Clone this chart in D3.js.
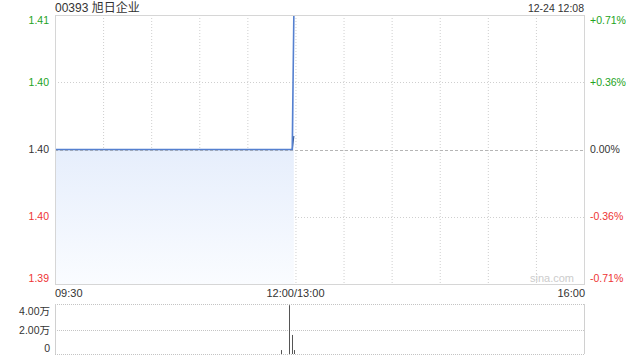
<!DOCTYPE html>
<html>
<head>
<meta charset="utf-8">
<script src="https://cdn.jsdelivr.net/npm/d3@7"></script>
<style>
  body { margin: 0; background: #fff; }
  text { font-family: "Liberation Sans", Arial, "Noto Sans CJK SC", sans-serif; }
</style>
</head>
<body>
<div id="chart"></div>
<script>
// Intraday chart: 00393, trading stops at 12:00 (half-day session)

var titleText = "00393 旭日企业";
var stampText = "12-24 12:08";
var prevClose = 1.40;

// price line, change points only (minute, price)
var priceTimes = ["09:30", "11:58", "11:59"];
var priceValues = [1.40, 1.40, 1.41];

// average price line
var avgTimes = ["09:30", "11:58", "11:59"];
var avgValues = [1.40, 1.40, 1.401];

// volume bars (shares), minutes without trades left out
var volTimes = ["11:51", "11:56", "11:58", "11:59"];
var volValues = [3300, 41000, 16000, 3300];

var priceTicks = [1.41, 1.405, 1.40, 1.395, 1.39];
var priceLabels = ["1.41", "1.40", "1.40", "1.40", "1.39"];
var pctLabels = ["+0.71%", "+0.36%", "0.00%", "-0.36%", "-0.71%"];
var timeLabels = ["09:30", "12:00/13:00", "16:00"];
var volTicks = [40000, 20000, 0];
var volLabels = ["4.00万", "2.00万", "0"];

var svgWidth = 640;
var svgHeight = 360;
var left = 55, right = 584;
var priceTop = 15, priceBottom = 284;
var volTop = 304, volBottom = 354;

var green = "#22a322";
var red = "#ee3333";
var dark = "#333";

var svg = d3.select("#chart")
    .append("svg")
    .attr("width", svgWidth)
    .attr("height", svgHeight);

// minutes since the open, lunch break squeezed out
function minuteIndex(t) {
    var p = t.split(":");
    var m = +p[0] * 60 + +p[1];
    if (m >= 780) return 150 + (m - 780);
    return m - 570;
}

var x = d3.scaleLinear().domain([0, 330]).range([left, right]);
var y = d3.scaleLinear().domain([1.39, 1.41]).range([priceBottom, priceTop]);
var yVol = d3.scaleLinear().domain([0, 42000]).range([volBottom, volTop]);

var pricePts = priceTimes.map((t, i) => ({ i: minuteIndex(t), v: priceValues[i] }));
var avgPts = avgTimes.map((t, i) => ({ i: minuteIndex(t), v: avgValues[i] }));
var volPts = volTimes.map((t, i) => ({ i: minuteIndex(t), v: volValues[i] }));

// gradient for the area
var defs = svg.append("defs");
var grad = defs.append("linearGradient")
    .attr("id", "fade")
    .attr("x1", 0).attr("y1", 0).attr("x2", 0).attr("y2", 1);
grad.append("stop").attr("offset", "0%").attr("stop-color", "#dce7fb");
grad.append("stop").attr("offset", "50%").attr("stop-color", "#e6eefc");
grad.append("stop").attr("offset", "100%").attr("stop-color", "#fafcff");

// vertical grid, every 30 minutes
var gridIdx = d3.range(30, 330, 30);
svg.append("g").selectAll("line")
    .data(gridIdx)
    .enter()
    .append("line")
    .attr("x1", d => x(d) + 0.5).attr("x2", d => x(d) + 0.5)
    .attr("y1", priceTop).attr("y2", priceBottom)
    .attr("stroke", "#cfcfcf")
    .attr("stroke-dasharray", "1,2");

// horizontal grid
svg.append("g").selectAll("line")
    .data([1.405, 1.395])
    .enter()
    .append("line")
    .attr("x1", left).attr("x2", right)
    .attr("y1", d => Math.round(y(d)) + 0.5).attr("y2", d => Math.round(y(d)) + 0.5)
    .attr("stroke", "#cfcfcf")
    .attr("stroke-dasharray", "1,2");

// area under price line
var area = d3.area()
    .x(d => x(d.i))
    .y0(priceBottom)
    .y1(d => y(d.v));
svg.append("path")
    .datum(pricePts)
    .attr("d", area)
    .attr("fill", "url(#fade)");

// previous close line
svg.append("line")
    .attr("x1", left).attr("x2", right)
    .attr("y1", Math.round(y(prevClose)) + 0.5).attr("y2", Math.round(y(prevClose)) + 0.5)
    .attr("stroke", "#b5b5b5")
    .attr("stroke-dasharray", "3,2");

var line = d3.line()
    .x(d => x(d.i))
    .y(d => y(d.v));

svg.append("path")
    .datum(avgPts)
    .attr("d", line)
    .attr("fill", "none")
    .attr("stroke", "#3d5f99")
    .attr("stroke-width", 1.2);

svg.append("path")
    .datum(pricePts)
    .attr("d", line)
    .attr("fill", "none")
    .attr("stroke", "#5580d0")
    .attr("stroke-width", 1.6);

// price frame
svg.append("rect")
    .attr("x", left + 0.5).attr("y", priceTop + 0.5)
    .attr("width", right - left).attr("height", priceBottom - priceTop)
    .attr("fill", "none")
    .attr("stroke", "#d6d6d6");

// watermark
svg.append("text")
    .attr("x", 574).attr("y", 282)
    .attr("text-anchor", "end")
    .attr("font-size", 11)
    .attr("fill", "#cccccc")
    .text("sina.com");

// left price labels
function tickColor(v) {
    if (v > prevClose + 1e-9) return green;
    if (v < prevClose - 1e-9) return red;
    return dark;
}
function clampY(py) {
    return Math.min(Math.max(py, priceTop + 5), priceBottom - 6);
}
svg.append("g").selectAll("text")
    .data(priceTicks)
    .enter()
    .append("text")
    .attr("x", 49)
    .attr("y", d => clampY(y(d)))
    .attr("dy", "0.35em")
    .attr("text-anchor", "end")
    .attr("font-size", 10.5)
    .attr("fill", d => tickColor(d))
    .text((d, i) => priceLabels[i]);

svg.append("g").selectAll("text")
    .data(priceTicks)
    .enter()
    .append("text")
    .attr("x", 590)
    .attr("y", d => clampY(y(d)))
    .attr("dy", "0.35em")
    .attr("text-anchor", "start")
    .attr("font-size", 10.5)
    .attr("fill", d => tickColor(d))
    .text((d, i) => pctLabels[i]);

// time labels
var timeIdx = [0, 150, 330];
var timeAnchor = ["start", "middle", "end"];
svg.append("g").selectAll("text")
    .data(timeLabels)
    .enter()
    .append("text")
    .attr("x", (d, i) => x(timeIdx[i]) + (i == 2 ? 1 : 0))
    .attr("y", 297)
    .attr("text-anchor", (d, i) => timeAnchor[i])
    .attr("font-size", 11)
    .attr("fill", dark)
    .text(d => d);

// title and stamp
svg.append("text")
    .attr("x", left).attr("y", 12)
    .attr("font-size", 12)
    .attr("fill", dark)
    .text(titleText);

svg.append("text")
    .attr("x", right).attr("y", 12)
    .attr("text-anchor", "end")
    .attr("font-size", 10.5)
    .attr("fill", dark)
    .text(stampText);

// volume panel
svg.append("g").selectAll("line")
    .data([volTop, Math.round(yVol(20000)), volBottom])
    .enter()
    .append("line")
    .attr("x1", left).attr("x2", right)
    .attr("y1", d => d + 0.5).attr("y2", d => d + 0.5)
    .attr("stroke", "#c4c4c4")
    .attr("stroke-dasharray", "1,1");

svg.append("line")
    .attr("x1", left + 0.5).attr("x2", left + 0.5)
    .attr("y1", volTop).attr("y2", volBottom)
    .attr("stroke", "#d0d0d0");
svg.append("line")
    .attr("x1", right + 0.5).attr("x2", right + 0.5)
    .attr("y1", volTop).attr("y2", volBottom)
    .attr("stroke", "#d0d0d0");

svg.append("g").selectAll("line")
    .data(volPts)
    .enter()
    .append("line")
    .attr("x1", d => Math.round(x(d.i)) + 0.5).attr("x2", d => Math.round(x(d.i)) + 0.5)
    .attr("y1", volBottom)
    .attr("y2", d => yVol(d.v))
    .attr("stroke", "#555")
    .attr("stroke-width", 1);

svg.append("g").selectAll("text")
    .data(volTicks)
    .enter()
    .append("text")
    .attr("x", 50)
    .attr("y", d => Math.min(Math.max(yVol(d), 311), 348))
    .attr("dy", "0.35em")
    .attr("text-anchor", "end")
    .attr("font-size", 10.5)
    .attr("fill", dark)
    .text((d, i) => volLabels[i]);
</script>
</body>
</html>
